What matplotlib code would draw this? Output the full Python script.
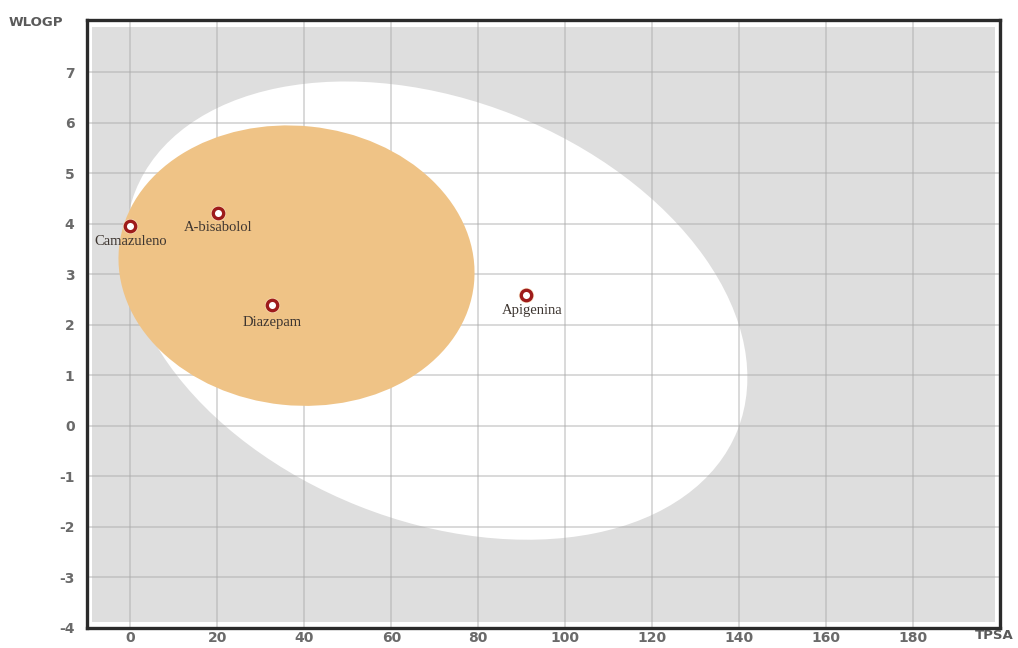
import matplotlib
matplotlib.use("Agg")
import matplotlib.pyplot as plt
import numpy as np
from matplotlib.patches import Ellipse, Rectangle
from matplotlib.transforms import Affine2D

plt.rcParams["axes.unicode_minus"] = False

# compounds (TPSA, WLOGP)
names = ["Camazuleno", "A-bisabolol", "Diazepam", "Apigenina"]
tpsa = [0.0, 20.23, 32.67, 90.90]
wlogp = [3.96, 4.22, 2.40, 2.58]
label_dx = [0.0, 0.0, 0.0, 1.5]
label_dy = [-0.32, -0.30, -0.35, -0.30]

# egg regions: center (tpsa, wlogp), width (tpsa units), height (scaled units), angle (deg)
y_scale = 11.64  # wlogp -> tpsa-like units so the ellipse is drawn in a square-ish space
white_center = (70.4, 2.28)
white_size = (149.1, 96.9)
white_angle = -21.7
yolk_center = (38.2, 3.17)
yolk_size = (82.1, 64.4)
yolk_angle = -5.9

xticks = list(range(0, 181, 20))
yticks = list(range(-4, 8))

fig = plt.figure(figsize=(10.18, 6.48), dpi=100)
ax = fig.add_axes([0.0855, 0.031, 0.8965, 0.938])
ax.set_xlim(-10, 200)
ax.set_ylim(-4, 8.03)

# grey background with a thin white margin inside the frame
ax.add_patch(Rectangle((0.005, 0.009), 0.99, 0.98, transform=ax.transAxes,
                       facecolor="#dedede", edgecolor="none", zorder=0))

scaled = Affine2D().scale(1, 1 / y_scale) + ax.transData
ax.add_patch(Ellipse((white_center[0], white_center[1] * y_scale), white_size[0], white_size[1],
                     angle=white_angle, transform=scaled, facecolor="white", edgecolor="none", zorder=1))
ax.add_patch(Ellipse((yolk_center[0], yolk_center[1] * y_scale), yolk_size[0], yolk_size[1],
                     angle=yolk_angle, transform=scaled, facecolor="#efc386", edgecolor="none", zorder=2))

ax.set_xticks(xticks)
ax.set_yticks(yticks)
ax.grid(True, color="#a8a8a8", linewidth=1.2, alpha=0.5, zorder=3)
for gl in ax.get_xgridlines() + ax.get_ygridlines():
    gl.set_zorder(3)

ax.tick_params(length=0, labelsize=10, labelcolor="#6a6a6a")
ax.tick_params(axis="y", pad=9)
ax.tick_params(axis="x", pad=2)
for lab in ax.get_xticklabels() + ax.get_yticklabels():
    lab.set_fontweight("bold")
    lab.set_fontfamily("DejaVu Sans")

for sp in ax.spines.values():
    sp.set_linewidth(2.4)
    sp.set_color("#2b2b2b")
    sp.set_zorder(6)

# points: dark red ring with light halo
ax.plot(tpsa, wlogp, linestyle="none", marker="o", markersize=11, markerfacecolor="#fbe3c0",
        markeredgecolor="none", zorder=4, alpha=0.8)
ax.plot(tpsa, wlogp, linestyle="none", marker="o", markersize=7.5, markerfacecolor="white",
        markeredgecolor="#9e1b1b", markeredgewidth=2.4, zorder=5)

for n, x, y, dx, dy in zip(names, tpsa, wlogp, label_dx, label_dy):
    ax.text(x + dx, y + dy, n, ha="center", va="center", fontsize=10.5,
            family="Liberation Serif", color="#3d3530", zorder=5)

fig.text(0.008, 0.966, "WLOGP", fontsize=9.5, fontweight="bold", color="#5a5a5a", va="center")
fig.text(0.958, 0.019, "TPSA", fontsize=9.5, fontweight="bold", color="#5a5a5a", va="center")

fig.savefig("out.png", dpi=100)
